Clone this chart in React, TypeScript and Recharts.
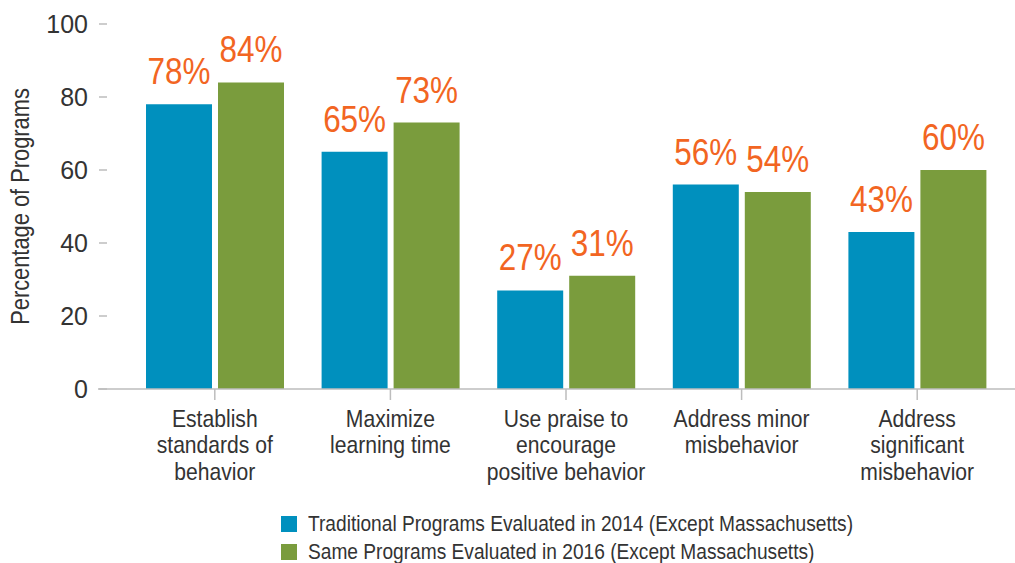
import React from "react"
import { Bar, BarChart, LabelList, Legend, XAxis, YAxis } from "recharts"

// categories (split into display lines)
const categories = [
  ["Establish", "standards of", "behavior"],
  ["Maximize", "learning time"],
  ["Use praise to", "encourage", "positive behavior"],
  ["Address minor", "misbehavior"],
  ["Address", "significant", "misbehavior"],
]

const traditional2014 = [78, 65, 27, 56, 43]
const same2016 = [84, 73, 31, 54, 60]

const yTicks = [0, 20, 40, 60, 80, 100]

const SERIES_2014 = "Traditional Programs Evaluated in 2014 (Except Massachusetts)"
const SERIES_2016 = "Same Programs Evaluated in 2016 (Except Massachusetts)"
const seriesOrder = ["t2014", "s2016"]

const BLUE = "#0090be"
const GREEN = "#7a9c3d"
const ORANGE = "#f26522"
const TEXT = "#333333"
const AXIS = "#bdbdbd"
const FONT = "'Liberation Sans', Arial, sans-serif"

const data = categories.map((lines, i) => ({
  name: lines.join(" "),
  t2014: traditional2014[i],
  s2016: same2016[i],
}))

// no narrow font installed, so squeeze text horizontally around its anchor
function NarrowText({ x, y, sx, children, ...rest }: any) {
  return (
    <text transform={`translate(${x} ${y}) scale(${sx} 1)`} x={0} y={0} fontFamily={FONT} {...rest}>
      {children}
    </text>
  )
}

function YTick(props: any) {
  const { x, y, payload } = props
  return (
    <g>
      <line x1={x + 1} x2={x + 9} y1={y} y2={y} stroke={AXIS} strokeWidth={1.5} />
      <text x={x - 10} y={y} dy={9} textAnchor="end" fill={TEXT} fontSize={25} fontFamily={FONT}>
        {payload.value}
      </text>
    </g>
  )
}

function XTick(props: any) {
  const { x, y, index } = props
  const lines = categories[index] || []
  return (
    <g>
      <line x1={x} x2={x} y1={y} y2={y + 11} stroke={AXIS} strokeWidth={1.5} />
      <NarrowText x={x} y={y + 38} sx={0.88} textAnchor="middle" fill={TEXT} fontSize={24}>
        {lines.map((l: string, i: number) => (
          <tspan key={i} x={0} dy={i === 0 ? 0 : 26.5}>
            {l}
          </tspan>
        ))}
      </NarrowText>
    </g>
  )
}

function YLabel(props: any) {
  const vb = props.viewBox
  const cx = vb.x + 20
  const cy = vb.y + vb.height / 2
  return (
    <g transform={`rotate(-90, ${cx}, ${cy})`}>
      <NarrowText x={cx} y={cy} sx={0.84} textAnchor="middle" dominantBaseline="central" fill={TEXT} fontSize={26}>
        Percentage of Programs
      </NarrowText>
    </g>
  )
}

function PctLabel(props: any) {
  const { x, y, width, value } = props
  return (
    <NarrowText x={x + width / 2} y={y - 20} sx={0.85} textAnchor="middle" fill={ORANGE} fontSize={37}>
      {`${value}%`}
    </NarrowText>
  )
}

function LegendBox(props: any) {
  const items = [...(props.payload || [])].sort(
    (a: any, b: any) => seriesOrder.indexOf(a.dataKey) - seriesOrder.indexOf(b.dataKey)
  )
  return (
    <div style={{ paddingLeft: 281, paddingTop: 3, height: 53, fontFamily: FONT, fontSize: 22, color: TEXT }}>
      {items.map((it: any) => (
        <div key={it.value} style={{ display: "flex", alignItems: "center", height: 28, whiteSpace: "nowrap" }}>
          <span style={{ width: 16, height: 16, background: it.color, marginRight: 11, display: "inline-block", flex: "none" }} />
          <span style={{ display: "inline-block", transform: "scaleX(0.87)", transformOrigin: "left center" }}>
            {it.value}
          </span>
        </div>
      ))}
    </div>
  )
}

export default function App() {
  return (
    <div style={{ position: "absolute", left: 0, top: 0, width: 1015, height: 563, background: "#fff", overflow: "hidden" }}>
      <BarChart
        width={1015}
        height={563}
        data={data}
        margin={{ top: 24, right: 0, bottom: 0, left: 0 }}
        barSize={66}
        barGap={6}
      >
        <XAxis
          dataKey="name"
          padding={{ left: 29, right: 10 }}
          height={118}
          tickLine={false}
          tickSize={0}
          tickMargin={0}
          axisLine={{ stroke: AXIS, strokeWidth: 1.5 }}
          tick={<XTick />}
          interval={0}
        />
        <YAxis
          width={98}
          domain={[0, 100]}
          ticks={yTicks}
          axisLine={false}
          tickLine={false}
          tickSize={0}
          tickMargin={0}
          tick={<YTick />}
          label={<YLabel />}
        />
        <Legend verticalAlign="bottom" align="left" content={<LegendBox />} />
        <Bar dataKey="t2014" name={SERIES_2014} fill={BLUE} isAnimationActive={false}>
          <LabelList dataKey="t2014" content={<PctLabel />} />
        </Bar>
        <Bar dataKey="s2016" name={SERIES_2016} fill={GREEN} isAnimationActive={false}>
          <LabelList dataKey="s2016" content={<PctLabel />} />
        </Bar>
      </BarChart>
    </div>
  )
}
